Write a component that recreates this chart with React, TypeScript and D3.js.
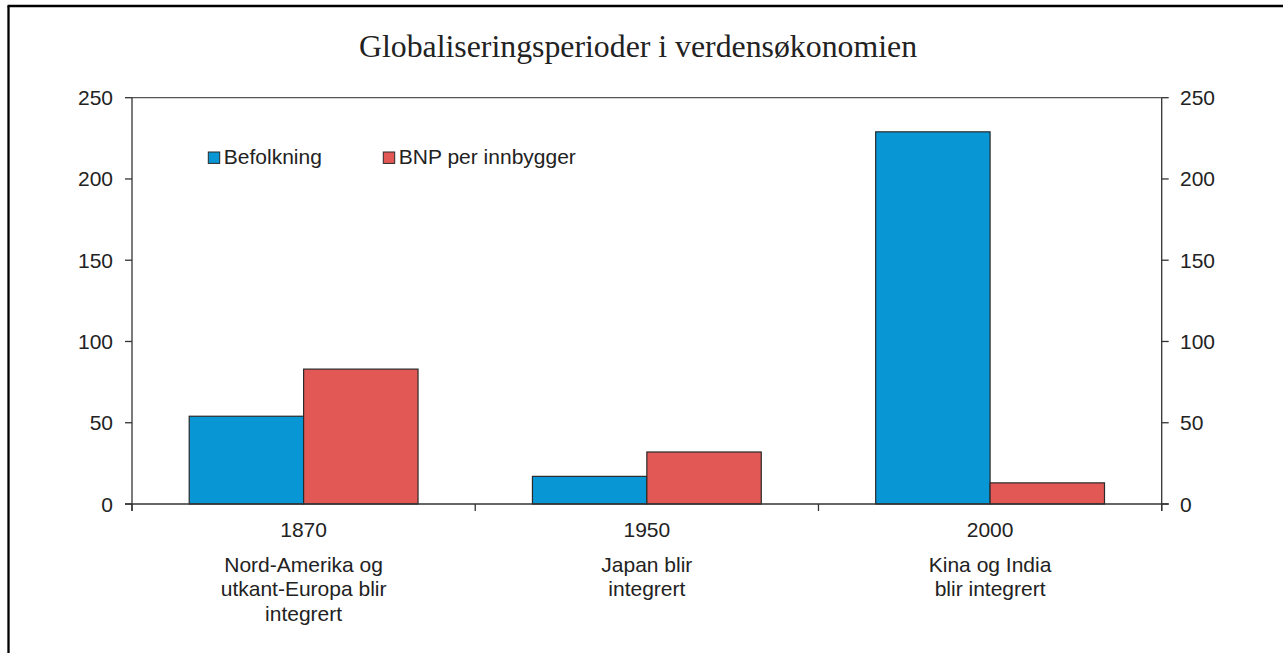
import React from "react";
import * as d3 from "d3";

const years = ["1870", "1950", "2000"];
const descriptions = [
  ["Nord-Amerika og", "utkant-Europa blir", "integrert"],
  ["Japan blir", "integrert"],
  ["Kina og India", "blir integrert"],
];
const seriesNames = ["Befolkning", "BNP per innbygger"];
const befolkning = [54, 17, 229];
const bnpPerInnbygger = [83, 32, 13];
const yTicks = [0, 50, 100, 150, 200, 250];
const title = "Globaliseringsperioder i verdensøkonomien";

const W = 1283;
const H = 653;
const left = 132;
const right = 1161.7;
const top = 97.7;
const bottom = 504;
const colors = ["#0896d5", "#e25855"];
const axisColor = "#333";
const sans = "'Liberation Sans', Arial, Helvetica, sans-serif";
const serif = "'Liberation Serif', 'Times New Roman', serif";
const fs = 21;

export default function App() {
  const x = d3.scaleBand<string>().domain(years).range([left, right]).padding(0);
  const bw = x.bandwidth();
  const inner = d3
    .scaleBand<string>()
    .domain(seriesNames)
    .range([bw / 6, (bw * 5) / 6])
    .padding(0);
  const y = d3.scaleLinear().domain([0, 250]).range([bottom, top]);
  const series = [befolkning, bnpPerInnbygger];

  const boundaries = [left, ...years.map((c) => (x(c) as number) + bw)];

  return (
    <svg
      width={W}
      height={H}
      style={{ position: "absolute", left: 0, top: 0, background: "#fff" }}
    >
      <rect x={0} y={0} width={W} height={H} fill="#fff" />
      {/* outer frame */}
      <line x1={8.5} y1={6} x2={8.5} y2={H + 5} stroke="#000" strokeWidth={2.3} />
      <line x1={7.5} y1={6} x2={W + 5} y2={6} stroke="#000" strokeWidth={2.3} />

      <text
        x={638}
        y={57}
        textAnchor="middle"
        fontFamily={serif}
        fontSize={31.8}
        fill="#222"
      >
        {title}
      </text>

      {/* top frame line */}
      <line x1={left} y1={top} x2={right} y2={top} stroke="#555" strokeWidth={1.3} />

      {/* bars */}
      {series.map((vals, si) =>
        years.map((c, ci) => {
          const x0 = (x(c) as number) + (inner(seriesNames[si]) as number);
          return (
            <rect
              key={`${si}-${ci}`}
              x={x0}
              y={y(vals[ci])}
              width={inner.bandwidth()}
              height={bottom - y(vals[ci])}
              fill={colors[si]}
              stroke="#2a2a2a"
              strokeWidth={1.2}
            />
          );
        })
      )}

      {/* left axis */}
      <line x1={left} y1={top} x2={left} y2={bottom + 7} stroke={axisColor} strokeWidth={1.3} />
      {yTicks.map((t) => (
        <g key={`l${t}`}>
          <line x1={left - 7} x2={left} y1={y(t)} y2={y(t)} stroke={axisColor} strokeWidth={1.3} />
          <text
            x={113}
            y={y(t) + 7.5}
            textAnchor="end"
            fontFamily={sans}
            fontSize={fs}
            fill="#222"
          >
            {t}
          </text>
        </g>
      ))}

      {/* right axis */}
      <line x1={right} y1={top} x2={right} y2={bottom + 7} stroke={axisColor} strokeWidth={1.3} />
      {yTicks.map((t) => (
        <g key={`r${t}`}>
          <line x1={right} x2={right + 7} y1={y(t)} y2={y(t)} stroke={axisColor} strokeWidth={1.3} />
          <text
            x={1180}
            y={y(t) + 7.5}
            textAnchor="start"
            fontFamily={sans}
            fontSize={fs}
            fill="#222"
          >
            {t}
          </text>
        </g>
      ))}

      {/* bottom axis */}
      <line x1={left - 7} y1={bottom} x2={right + 7} y2={bottom} stroke={axisColor} strokeWidth={1.5} />
      {boundaries.map((b, i) => (
        <line key={`b${i}`} x1={b} x2={b} y1={bottom} y2={bottom + 7} stroke={axisColor} strokeWidth={1.3} />
      ))}

      {/* category labels */}
      {years.map((c, ci) => {
        const cx = (x(c) as number) + bw / 2;
        return (
          <g key={c}>
            <text x={cx} y={536.5} textAnchor="middle" fontFamily={sans} fontSize={fs} fill="#222">
              {c}
            </text>
            {descriptions[ci].map((line, li) => (
              <text
                key={li}
                x={cx}
                y={572 + li * 24.3}
                textAnchor="middle"
                fontFamily={sans}
                fontSize={fs}
                fill="#222"
              >
                {line}
              </text>
            ))}
          </g>
        );
      })}

      {/* legend */}
      {seriesNames.map((s, i) => {
        const lx = [208.3, 383.3][i];
        return (
          <g key={s}>
            <rect x={lx} y={152} width={11.4} height={11.4} fill={colors[i]} stroke="#2a2a2a" strokeWidth={1} />
            <text x={lx + 15.5} y={163.5} fontFamily={sans} fontSize={fs} fill="#222">
              {s}
            </text>
          </g>
        );
      })}
    </svg>
  );
}
